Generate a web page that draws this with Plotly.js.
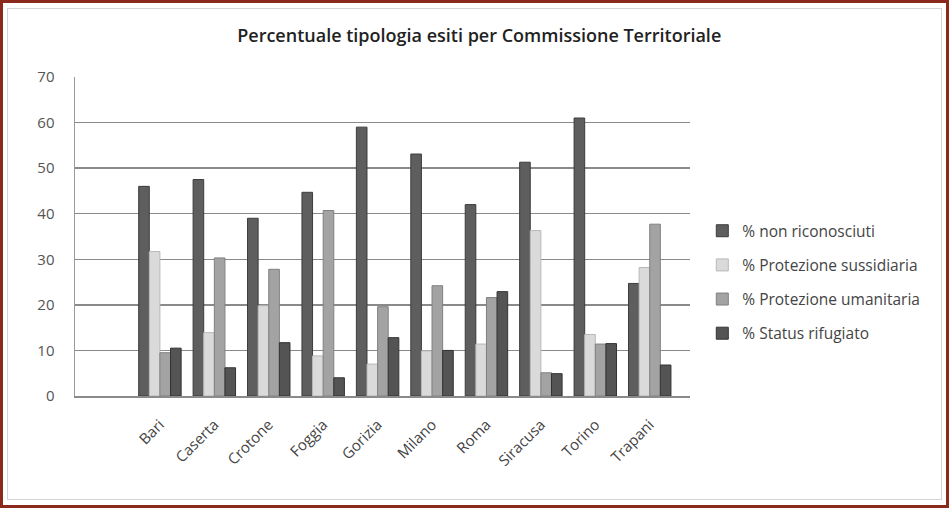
<!DOCTYPE html>
<html>
<head>
<meta charset="utf-8">
<script src="https://cdn.plot.ly/plotly-3.0.1.min.js"></script>
<style>
html,body{margin:0;padding:0;background:#fff;}
#frame{position:absolute;left:0;top:0;width:949px;height:508px;box-sizing:border-box;border:3px solid #8b2a1c;}
#inner{position:absolute;left:7px;top:8px;width:935px;height:492px;box-sizing:border-box;border:1px solid #d4d4d4;}
#chart{position:absolute;left:0;top:0;width:949px;height:508px;}
</style>
</head>
<body>
<div id="chart"></div>
<div id="inner"></div>
<div id="frame"></div>
<script>
const categories = ["Bari","Caserta","Crotone","Foggia","Gorizia","Milano","Roma","Siracusa","Torino","Trapani"];
const nonRiconosciuti = [46, 47.5, 39, 44.7, 59, 53.1, 42, 51.3, 61, 24.7];
const protezioneSussidiaria = [31.7, 13.9, 19.8, 8.8, 7, 9.9, 11.4, 36.3, 13.5, 28.2];
const protezioneUmanitaria = [9.5, 30.3, 27.8, 40.7, 19.6, 24.2, 21.6, 5.1, 11.4, 37.7];
const statusRifugiato = [10.5, 6.2, 11.7, 4.0, 12.8, 10, 22.9, 4.9, 11.5, 6.8];
const seriesNames = ["% non riconosciuti","% Protezione sussidiaria","% Protezione umanitaria","% Status rifugiato"];
const yTicks = [0,10,20,30,40,50,60,70];

const fills = ["#5e5e5e","#dadada","#a3a3a3","#545454"];
const edges = ["#3c3c3c","#b8b8b8","#808080","#333333"];
const seriesData = [nonRiconosciuti, protezioneSussidiaria, protezioneUmanitaria, statusRifugiato];

const xIdx = categories.map((c,i)=>i);
const traces = seriesData.map((vals,k)=>({
  type:"bar",
  name: seriesNames[k],
  x: xIdx,
  y: vals,
  legendgroup: "g"+k,
  marker:{color: fills[k], line:{color: edges[k], width:1}},
  hoverinfo:"y+name"
}));

const layout = {
  width:949, height:508,
  paper_bgcolor:"rgba(0,0,0,0)", plot_bgcolor:"rgba(0,0,0,0)",
  margin:{l:75, r:259, t:77, b:112},
  barmode:"group",
  bargap:0.22, bargroupgap:0,
  showlegend:true,
  title:{text:"Percentuale tipologia esiti per Commissione Territoriale",
         font:{family:"Open Sans", size:18, weight:600, color:"#222"},
         x:0.505, xanchor:"center", y:0.93, yanchor:"middle"},
  font:{family:"Open Sans", color:"#555"},
  xaxis:{
    range:[-1.56, 9.74],
    tickmode:"array", tickvals:xIdx, ticktext:categories,
    tickangle:-45, tickfont:{size:15, color:"#444"},
    showgrid:false, zeroline:false,
    showline:true, linecolor:"#8a8a8a", linewidth:2,
    ticks:"", ticklabelstandoff:12, fixedrange:true
  },
  yaxis:{
    range:[0,70],
    tickmode:"array", tickvals:yTicks,
    tickfont:{size:15, color:"#555"},
    showgrid:true, gridcolor:"#8a8a8a", gridwidth:1.5,
    zeroline:false, showline:true, linecolor:"#9a9a9a", linewidth:1.5,
    ticks:"", ticklabelstandoff:16, fixedrange:true
  },
  legend:{
    x:1.02, xanchor:"left", y:0.57, yanchor:"top",
    font:{size:15.5, color:"#444"},
    traceorder:"grouped", tracegroupgap:11,
    itemwidth:30, bgcolor:"rgba(0,0,0,0)"
  }
};

Plotly.newPlot("chart", traces, layout, {displayModeBar:false, staticPlot:true});
</script>
</body>
</html>
